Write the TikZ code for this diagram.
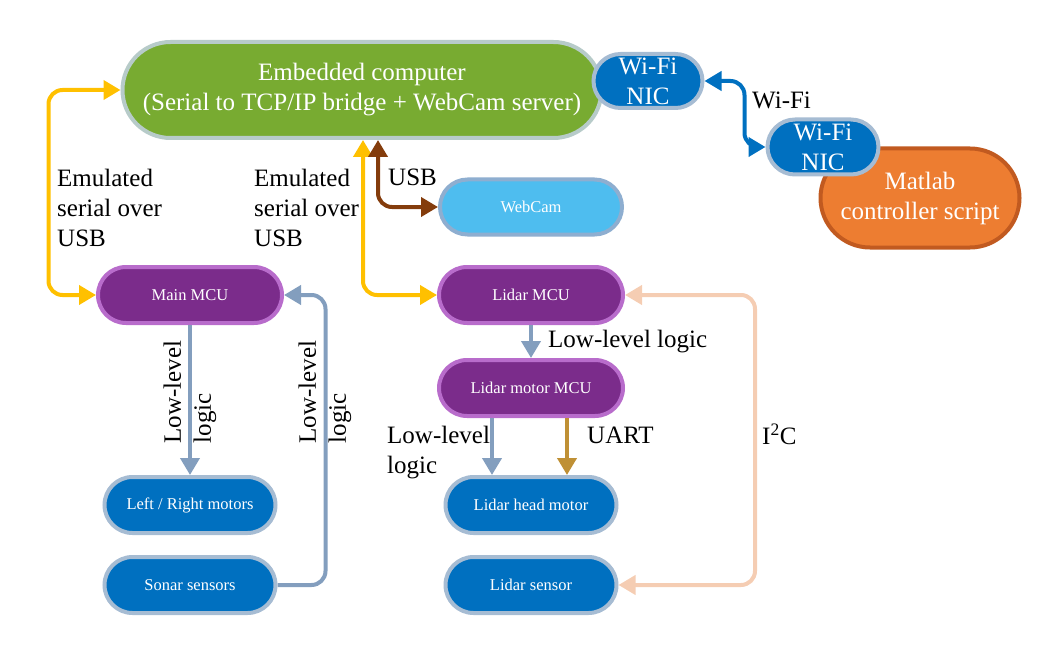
\documentclass[tikz,border=0pt]{standalone}
\usepackage{fontspec}
\setmainfont{Liberation Serif}
\usetikzlibrary{arrows.meta,shapes.misc}

\definecolor{pcgreen}{HTML}{78AB31}
\definecolor{pcgreenrim}{HTML}{B7CBC9}
\definecolor{nicblue}{HTML}{0070C0}
\definecolor{bluerim}{HTML}{A6BCD3}
\definecolor{mcupurple}{HTML}{7B2C8B}
\definecolor{purplerim}{HTML}{B86CCB}
\definecolor{camblue}{HTML}{4EBDEF}
\definecolor{camrim}{HTML}{8EAED0}
\definecolor{scriptorange}{HTML}{ED7D31}
\definecolor{orangerim}{HTML}{C15A20}
\definecolor{usbyellow}{HTML}{FFC000}
\definecolor{usbbrown}{HTML}{843C0C}
\definecolor{logicgray}{HTML}{839EBE}
\definecolor{uartgold}{HTML}{BF9035}
\definecolor{peach}{HTML}{F5CDB3}

\newcommand{\bigtxt}{\fontsize{25}{30}\selectfont}
\newcommand{\smalltxt}{\fontsize{16.5}{20}\selectfont}

\begin{document}
\begin{tikzpicture}[x=1pt,y=-1pt,>={Triangle[length=17pt,width=19pt]},
        block/.style={rounded rectangle,line width=4pt,text=white,align=center,
          font=\smalltxt,inner sep=1pt},
        pc/.style={block,fill=pcgreen,draw=pcgreenrim,font=\bigtxt},
        nic/.style={block,fill=nicblue,draw=bluerim,font=\bigtxt},
        mcu/.style={block,fill=mcupurple,draw=purplerim,minimum width=186pt,minimum height=56pt},
        dev/.style={block,fill=nicblue,draw=bluerim,minimum width=173pt,minimum height=56pt},
        lbl/.style={font=\bigtxt,inner sep=0pt,align=left},
        link/.style={line width=4pt,rounded corners=14pt}]

  \useasboundingbox (0,0) rectangle (1050,650);

  % computers
  \node[pc,minimum width=481pt,minimum height=96pt] (pc) at (362,90)
    {Embedded computer\\(Serial to TCP/IP bridge + WebCam server)};
  \node[nic,minimum width=111pt,minimum height=54pt] (nic1) at (648,81) {Wi-Fi\\NIC};
  \node[block,fill=scriptorange,draw=orangerim,font=\bigtxt,
        minimum width=201pt,minimum height=99pt] (matlab) at (920,198)
    {Matlab\\controller script};
  \node[nic,minimum width=113pt,minimum height=55pt] (nic2) at (823,147) {Wi-Fi\\NIC};
  \node[block,fill=camblue,draw=camrim,minimum width=184pt,minimum height=55pt] (cam) at (531,207) {WebCam};

  % microcontrollers
  \node[mcu] (main) at (190,295) {Main MCU};
  \node[mcu] (lmcu) at (531,295) {Lidar MCU};
  \node[mcu] (lmot) at (531,388) {Lidar motor MCU};

  % devices
  \node[dev] (wheels) at (190,505) {Left / Right motors};
  \node[dev] (sonar) at (190,585) {Sonar sensors};
  \node[dev] (head) at (531,505) {Lidar head motor};
  \node[dev] (lsens) at (531,585) {Lidar sensor};

  % links
  \draw[link,usbyellow,<->] (pc.west) -- ++(-72,0) |- (main.west);
  \draw[link,usbyellow,<->] ([xshift=1pt]pc.south) |- (lmcu.west);
  \draw[link,usbbrown,<->] ([xshift=16pt]pc.south) |- (cam.west);
  \draw[link,nicblue,<->] (nic1.east) -- ++(40,0) |- (nic2.west);
  \draw[link,logicgray,->] (main.south) -- (wheels.north);
  \draw[link,logicgray,->] (sonar.east) -- ++(48,0) |- (main.east);
  \draw[link,logicgray,->] (lmcu.south) -- (lmot.north);
  \draw[link,logicgray,->] ([xshift=-39pt]lmot.south) -- ([xshift=-39pt]head.north);
  \draw[link,uartgold,->] ([xshift=36pt]lmot.south) -- ([xshift=36pt]head.north);
  \draw[link,peach,<->] (lmcu.east) -- ++(130,0) |- (lsens.east);

  % labels
  \node[lbl,anchor=north west] (emu1) at (57,169) {Emulated\\serial over\\USB};
  \node[lbl,anchor=north west] (emu2) at (254,169) {Emulated\\serial over\\USB};
  \node[lbl,anchor=north west] (usb) at (388,169) {USB};
  \node[lbl,anchor=north west] (wifi) at (752,92) {Wi-Fi};
  \node[lbl,rotate=90] (ll1) at (190,392) {Low-level\\logic};
  \node[lbl,rotate=90] (ll2) at (325,392) {Low-level\\logic};
  \node[lbl,anchor=north west] (ll3) at (548,330) {Low-level logic};
  \node[lbl,anchor=north west] (ll4) at (387,426) {Low-level\\logic};
  \node[lbl,anchor=north west] (uart) at (587,427) {UART};
  \node[lbl,anchor=north west] (i2c) at (762,424) {I\textsuperscript{2}C};

\end{tikzpicture}
\end{document}
